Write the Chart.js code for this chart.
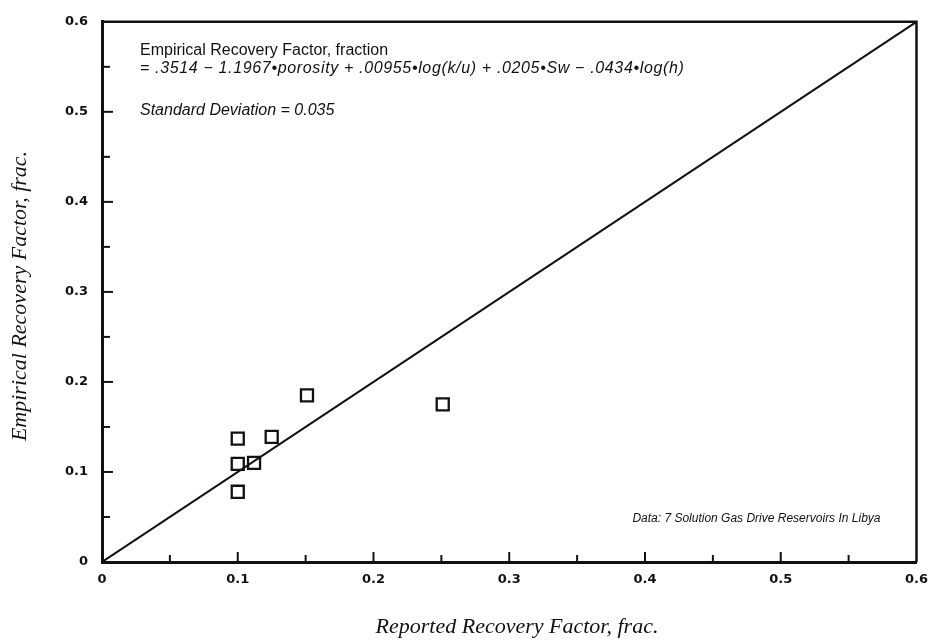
<!DOCTYPE html>
<html>
<head>
<meta charset="utf-8">
<script src="https://cdn.jsdelivr.net/npm/chart.js@4/dist/chart.umd.min.js"></script>
<style>
    html, body { margin: 0; padding: 0; background: #fff; }
    #wrap { width: 938px; height: 641px; }
</style>
</head>
<body>
<div id="wrap"><canvas id="rfChart" width="938" height="641"></canvas></div>
<script>
// Dane: 7 złóż (Libia)
const reportedRF = [0.100, 0.125, 0.151, 0.251, 0.100, 0.112, 0.100];
const empiricalRF = [0.137, 0.139, 0.185, 0.175, 0.109, 0.110, 0.078];
const lineX = [0, 0.6];
const lineY = [0, 0.6];
const axisMin = 0;
const axisMax = 0.6;
const tickStep = 0.05;

const ink = "#111111";

function tickLabel(v) {
    const n = Math.round(v / tickStep);
    if (n % 2 !== 0) return "";
    if (n === 0) return "0";
    return (n / 20).toFixed(1);
}

// Ramka, kreski do środka, opisy
const extras = {
    id: "extras",
    afterDraw(chart) {
        const { ctx, chartArea: a, scales } = chart;
        ctx.save();
        ctx.strokeStyle = ink;
        ctx.lineWidth = 2.5;
        ctx.beginPath();
        ctx.moveTo(a.left, a.top);
        ctx.lineTo(a.right, a.top);
        ctx.lineTo(a.right, a.bottom);
        ctx.stroke();

        ctx.lineWidth = 2;
        scales.x.ticks.forEach(t => {
            const n = Math.round(t.value / tickStep);
            if (n === 0 || n === 12) return;
            const px = scales.x.getPixelForValue(t.value);
            const len = n % 2 === 0 ? 10 : 7;
            ctx.beginPath();
            ctx.moveTo(px, a.bottom);
            ctx.lineTo(px, a.bottom - len);
            ctx.stroke();
        });
        scales.y.ticks.forEach(t => {
            const n = Math.round(t.value / tickStep);
            if (n === 0 || n === 12) return;
            const py = scales.y.getPixelForValue(t.value);
            const len = n % 2 === 0 ? 11 : 8;
            ctx.beginPath();
            ctx.moveTo(a.left, py);
            ctx.lineTo(a.left + len, py);
            ctx.stroke();
        });

        ctx.fillStyle = ink;
        ctx.textBaseline = "middle";
        ctx.textAlign = "left";
        ctx.font = "16px 'Liberation Sans'";
        ctx.fillText("Empirical Recovery Factor, fraction", a.left + 38, 51);
        ctx.font = "italic 16px 'Liberation Sans'";
        ctx.letterSpacing = "0.65px";
        ctx.fillText("= .3514 \u2212 1.1967\u2022porosity + .00955\u2022log(k/u) + .0205\u2022Sw \u2212 .0434\u2022log(h)", a.left + 38, 69);
        ctx.letterSpacing = "0px";
        ctx.fillText("Standard Deviation = 0.035", a.left + 38, 111);
        ctx.textAlign = "right";
        ctx.font = "italic 12px 'Liberation Sans'";
        ctx.fillText("Data: 7 Solution Gas Drive Reservoirs In Libya", a.right - 36, 519);

        // Tytuły osi
        ctx.font = "italic 22px 'Liberation Serif'";
        ctx.textAlign = "center";
        ctx.fillText("Reported Recovery Factor, frac.", 517, 627);
        ctx.translate(20, 296);
        ctx.rotate(-Math.PI / 2);
        ctx.fillText("Empirical Recovery Factor, frac.", 0, 0);
        ctx.restore();
    }
};

const ctx = document.getElementById("rfChart").getContext("2d");
new Chart(ctx, {
    type: "scatter",
    data: {
        datasets: [
            {
                label: "Reservoirs",
                data: reportedRF.map((x, i) => ({ x: x, y: empiricalRF[i] })),
                pointStyle: "rect",
                pointRadius: 8.5,
                pointHoverRadius: 8.5,
                pointBorderWidth: 2.3,
                borderColor: ink,
                backgroundColor: "rgba(0,0,0,0)",
            },
            {
                type: "line",
                label: "1:1",
                data: lineX.map((x, i) => ({ x: x, y: lineY[i] })),
                borderColor: ink,
                borderWidth: 2,
                pointRadius: 0,
                fill: false,
            }
        ]
    },
    options: {
        responsive: false,
        animation: false,
        events: [],
        layout: { padding: { top: 16, right: 19, left: 0, bottom: 0 } },
        plugins: {
            legend: { display: false },
            tooltip: { enabled: false }
        },
        scales: {
            x: {
                type: "linear",
                min: axisMin,
                max: axisMax,
                grid: { drawOnChartArea: false, drawTicks: false },
                border: { display: true, width: 3, color: ink },
                ticks: {
                    stepSize: tickStep,
                    autoSkip: false,
                    maxRotation: 0,
                    padding: 10,
                    color: ink,
                    font: { family: "'DejaVu Sans'", size: 13, weight: "bold" },
                    callback: v => tickLabel(v)
                },
                afterFit(scale) { scale.height = 79; }
            },
            y: {
                type: "linear",
                min: axisMin,
                max: axisMax,
                grid: { drawOnChartArea: false, drawTicks: false },
                border: { display: true, width: 3, color: ink },
                ticks: {
                    stepSize: tickStep,
                    autoSkip: false,
                    padding: 14,
                    color: ink,
                    font: { family: "'DejaVu Sans'", size: 13, weight: "bold" },
                    callback: v => tickLabel(v)
                },
                afterFit(scale) { scale.width = 102; }
            }
        }
    },
    plugins: [extras]
});
</script>
</body>
</html>
